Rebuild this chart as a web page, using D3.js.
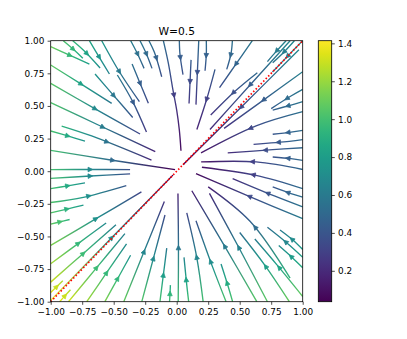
<!DOCTYPE html>
<html>
<head>
<meta charset="utf-8">
<script src="https://cdn.jsdelivr.net/npm/d3@7"></script>
<style>
  body { margin: 0; background: #fff; }
  text { font-family: "DejaVu Sans", sans-serif; }
</style>
</head>
<body>
<div id="chart"></div>
<script>
// streamlines, upstream -> downstream, each point [x, y, speed]
var streamsUpperLeft = [
  [[-1, 0.954, 1.11], [-0.846, 0.887, 0.955], [-0.693, 0.821, 0.805]],
  [[-0.9, 1, 1.03], [-0.807, 0.923, 0.93], [-0.745, 0.865, 0.861]],
  [[-0.825, 1, 0.965], [-0.735, 0.923, 0.868], [-0.608, 0.791, 0.725]],
  [[-0.693, 1, 0.854], [-0.614, 0.872, 0.753], [-0.534, 0.745, 0.651]],
  [[-0.595, 1, 0.777], [-0.455, 0.762, 0.593], [-0.296, 0.533, 0.398]],
  [[-0.354, 0.821, 0.542], [-0.296, 0.686, 0.453], [-0.225, 0.52, 0.344]],
  [[-0.365, 1, 0.619], [-0.317, 0.911, 0.555], [-0.259, 0.788, 0.471]],
  [[-0.291, 1, 0.579], [-0.246, 0.911, 0.518], [-0.196, 0.788, 0.44]],
  [[-0.22, 1, 0.546], [-0.177, 0.911, 0.489], [-0.119, 0.724, 0.381]],
  [[-0.106, 1, 0.511], [-0.066, 0.826, 0.418], [-0.032, 0.635, 0.319], [0, 0.468, 0.234], [0.021, 0.315, 0.158], [0.034, 0.157, 0.08]],
  [[-1, 0.814, 1.08], [-0.767, 0.673, 0.837], [-0.516, 0.52, 0.578]],
  [[-0.648, 0.745, 0.748], [-0.503, 0.583, 0.581], [-0.349, 0.412, 0.405]],
  [[-0.471, 0.737, 0.598], [-0.349, 0.533, 0.439], [-0.24, 0.3, 0.283]],
  [[-1, 0.673, 1.055], [-0.64, 0.474, 0.683], [-0.291, 0.285, 0.324]],
  [[-1, 0.525, 1.034], [-0.622, 0.354, 0.647], [-0.17, 0.15, 0.186]],
  [[-0.913, 0.346, 0.929], [-0.675, 0.27, 0.688], [-0.2, 0.085, 0.204]],
  [[-1, 0.308, 1.012], [-0.864, 0.27, 0.875], [-0.728, 0.231, 0.737]],
  [[-1, 0.16, 1.003], [-0.524, 0.086, 0.526], [-0.013, 0.012, 0.04]],
  [[-1, 0.012, 1.0], [-0.685, 0.013, 0.685], [-0.37, 0.012, 0.37]]
];

var streamsUpperRight = [
  [[1, 0.313, 0.524], [0.907, 0.3, 0.478], [0.762, 0.283, 0.406]],
  [[1, 0.242, 0.514], [0.894, 0.229, 0.461], [0.61, 0.206, 0.322]],
  [[1, 0.18, 0.508], [0.762, 0.165, 0.39], [0.405, 0.14, 0.214]],
  [[1, 0.083, 0.502], [0.907, 0.096, 0.456], [0.762, 0.109, 0.385]],
  [[1, 0.013, 0.5], [0.63, 0.071, 0.317], [0.194, 0.071, 0.103]],
  [[0.021, 1, 0.5], [0.026, 0.896, 0.448], [0.05, 0.74, 0.371]],
  [[0.114, 0.853, 0.43], [0.106, 0.686, 0.347], [0.098, 0.519, 0.264]],
  [[0.175, 1, 0.508], [0.164, 0.755, 0.386], [0.153, 0.51, 0.266]],
  [[0.235, 1, 0.514], [0.235, 0.896, 0.463], [0.225, 0.77, 0.401]],
  [[0.304, 0.78, 0.419], [0.238, 0.551, 0.3], [0.16, 0.32, 0.179]],
  [[0.442, 1, 0.547], [0.431, 0.9, 0.499], [0.397, 0.78, 0.438]],
  [[0.6, 1, 0.583], [0.47, 0.82, 0.473], [0.34, 0.64, 0.362]],
  [[0.64, 0.755, 0.5], [0.458, 0.609, 0.381], [0.27, 0.43, 0.254]],
  [[0.9, 1, 0.673], [0.582, 0.66, 0.44], [0.264, 0.32, 0.207]],
  [[0.97, 0.93, 0.672], [0.511, 0.49, 0.354], [0.05, 0.05, 0.04]],
  [[0.868, 1, 0.662], [0.788, 0.916, 0.604], [0.72, 0.84, 0.55]],
  [[0.934, 1, 0.684], [0.854, 0.916, 0.626], [0.762, 0.831, 0.564]],
  [[1, 1, 0.707], [0.881, 0.882, 0.623], [0.76, 0.76, 0.537]],
  [[1, 0.762, 0.629], [0.688, 0.545, 0.439], [0.376, 0.328, 0.25]],
  [[1, 0.627, 0.59], [0.907, 0.576, 0.537], [0.75, 0.48, 0.445]],
  [[1, 0.533, 0.567], [0.907, 0.507, 0.52], [0.762, 0.468, 0.447]],
  [[1, 0.456, 0.55], [0.63, 0.347, 0.36], [0.193, 0.14, 0.119]]
];

var streamsLowerLeft = [
  [[-1, -0.055, 1.0], [-0.685, -0.037, 0.686], [-0.37, -0.02, 0.37]],
  [[-1, -0.134, 1.009], [-0.864, -0.112, 0.871], [-0.728, -0.09, 0.734]],
  [[-1, -0.24, 1.028], [-0.741, -0.2, 0.768], [-0.4, -0.11, 0.415]],
  [[-1, -0.32, 1.05], [-0.87, -0.29, 0.917], [-0.74, -0.26, 0.784]],
  [[-1, -0.405, 1.079], [-0.925, -0.388, 1.003], [-0.85, -0.37, 0.927]],
  [[-1, -0.569, 1.15], [-0.64, -0.364, 0.736], [-0.28, -0.159, 0.322]],
  [[-1, -0.709, 1.226], [-0.78, -0.553, 0.956], [-0.56, -0.397, 0.686]],
  [[-1, -0.85, 1.312], [-0.741, -0.63, 0.973], [-0.482, -0.41, 0.633]],
  [[-1, -0.99, 1.407], [-0.516, -0.51, 0.726], [-0.03, -0.03, 0.042]],
  [[-0.859, -1, 1.318], [-0.635, -0.739, 0.974], [-0.411, -0.478, 0.63]],
  [[-0.714, -1, 1.229], [-0.556, -0.778, 0.956], [-0.398, -0.556, 0.684]],
  [[-0.57, -1, 1.151], [-0.468, -0.822, 0.946], [-0.366, -0.644, 0.741]],
  [[-1, -0.93, 1.366], [-0.952, -0.885, 1.3], [-0.904, -0.84, 1.234]],
  [[-0.929, -1, 1.365], [-0.886, -0.954, 1.302], [-0.843, -0.908, 1.239]],
  [[-0.42, -1, 1.085], [-0.259, -0.616, 0.668], [-0.098, -0.232, 0.252]],
  [[-0.277, -1, 1.038], [-0.185, -0.668, 0.693], [-0.093, -0.336, 0.349]],
  [[-0.133, -1, 1.009], [-0.106, -0.795, 0.802], [-0.079, -0.59, 0.595]],
  [[-0.057, -1, 1.002], [-0.053, -0.936, 0.937], [-0.05, -0.873, 0.874]]
];

var streamsLowerRight = [
  [[0.012, -1, 1.0], [0.014, -0.583, 0.583], [0.01, -0.17, 0.17]],
  [[0.095, -1, 1.001], [0.079, -0.864, 0.865], [0.058, -0.66, 0.661]],
  [[0.21, -1, 1.005], [0.159, -0.66, 0.665], [0.08, -0.32, 0.323]],
  [[0.392, -1, 1.019], [0.286, -0.737, 0.751], [0.153, -0.379, 0.387]],
  [[0.444, -1, 1.024], [0.405, -0.872, 0.895], [0.352, -0.711, 0.733]],
  [[0.636, -1, 1.049], [0.378, -0.57, 0.601], [0.12, -0.15, 0.162]],
  [[0.72, -1, 1.063], [0.492, -0.583, 0.634], [0.26, -0.17, 0.205]],
  [[0.9, -0.82, 0.935], [0.582, -0.384, 0.467], [0.25, -0.12, 0.166]],
  [[0.894, -1, 1.096], [0.696, -0.716, 0.797], [0.5, -0.47, 0.532]],
  [[1, -0.96, 1.083], [0.794, -0.716, 0.82], [0.62, -0.52, 0.606]],
  [[1, -0.6, 0.781], [0.913, -0.52, 0.697], [0.82, -0.45, 0.6]],
  [[1, -0.66, 0.828], [0.868, -0.545, 0.68], [0.72, -0.43, 0.54]],
  [[1, -0.74, 0.897], [0.918, -0.663, 0.804], [0.81, -0.57, 0.693]],
  [[1, -0.134, 0.517], [0.63, -0.032, 0.317], [0.2, 0.03, 0.1]],
  [[1, -0.364, 0.614], [0.608, -0.206, 0.364], [0.153, -0.019, 0.08]],
  [[1, -0.274, 0.568], [0.775, -0.19, 0.42], [0.444, -0.057, 0.232]],
  [[1, -0.198, 0.537], [0.907, -0.172, 0.488], [0.762, -0.121, 0.403]]
];

var diagonal = [[-1, -1], [1, 1]];
var xTicks = [-1, -0.75, -0.5, -0.25, 0, 0.25, 0.5, 0.75, 1];
var yTicks = [-1, -0.75, -0.5, -0.25, 0, 0.25, 0.5, 0.75, 1];
var cbarTicks = [0.2, 0.4, 0.6, 0.8, 1.0, 1.2, 1.4];
var speedRange = [0.037, 1.414];
var title = "W=0.5";

var width = 407, height = 339;
var plot = {left: 50.7, right: 302.7, top: 40.7, bottom: 301.7};
var cbar = {left: 318.3, right: 331.7};

var x = d3.scaleLinear().domain([-1, 1]).range([plot.left, plot.right]);
var y = d3.scaleLinear().domain([-1, 1]).range([plot.bottom, plot.top]);
var color = d3.scaleSequential(d3.interpolateViridis).domain(speedRange);
var cy = d3.scaleLinear().domain(speedRange).range([plot.bottom, plot.top]);

var svg = d3.select('#chart').append('svg')
    .attr('xmlns', 'http://www.w3.org/2000/svg')
    .attr('width', width)
    .attr('height', height);

svg.append('rect').attr('width', width).attr('height', height).attr('fill', '#fff');

var defs = svg.append('defs');
defs.append('clipPath').attr('id', 'plotClip')
    .append('rect')
    .attr('x', plot.left).attr('y', plot.top)
    .attr('width', plot.right - plot.left).attr('height', plot.bottom - plot.top);

var line = d3.line()
    .x(function (d) { return x(d[0]); })
    .y(function (d) { return y(d[1]); })
    .curve(d3.curveCatmullRom.alpha(0.5));

var streams = streamsUpperLeft.concat(streamsUpperRight, streamsLowerLeft, streamsLowerRight);

var gLines = svg.append('g').attr('clip-path', 'url(#plotClip)');
var gArrows = svg.append('g');

streams.forEach(function (pts, i) {
    var x1 = x(pts[0][0]), y1 = y(pts[0][1]);
    var x2 = x(pts[pts.length - 1][0]), y2 = y(pts[pts.length - 1][1]);
    var dx = x2 - x1, dy = y2 - y1, len2 = dx * dx + dy * dy;

    // colour runs along the line with the speed read at each point
    var stops = pts.map(function (p) {
        var t = ((x(p[0]) - x1) * dx + (y(p[1]) - y1) * dy) / len2;
        return {t: Math.max(0, Math.min(1, t)), s: p[2]};
    }).sort(function (a, b) { return a.t - b.t; });

    var grad = defs.append('linearGradient')
        .attr('id', 'sg' + i)
        .attr('gradientUnits', 'userSpaceOnUse')
        .attr('x1', x1).attr('y1', y1).attr('x2', x2).attr('y2', y2);
    stops.forEach(function (s) {
        grad.append('stop').attr('offset', s.t).attr('stop-color', color(s.s));
    });

    var path = gLines.append('path')
        .attr('d', line(pts))
        .attr('fill', 'none')
        .attr('stroke', 'url(#sg' + i + ')')
        .attr('stroke-width', 1.35)
        .attr('stroke-linecap', 'butt');

    // arrow head half way along the line
    var node = path.node(), L = node.getTotalLength();
    var a = node.getPointAtLength(L / 2 - 0.5), b = node.getPointAtLength(L / 2 + 0.5);
    var ux = b.x - a.x, uy = b.y - a.y, un = Math.sqrt(ux * ux + uy * uy) || 1;
    ux /= un; uy /= un;
    var mx = (a.x + b.x) / 2, my = (a.y + b.y) / 2;
    var tm = ((mx - x1) * dx + (my - y1) * dy) / len2, sm = stops[0].s;
    for (var k = 1; k < stops.length; k++) {
        if (tm <= stops[k].t) {
            var f = (tm - stops[k - 1].t) / ((stops[k].t - stops[k - 1].t) || 1);
            sm = stops[k - 1].s + f * (stops[k].s - stops[k - 1].s);
            break;
        }
        sm = stops[k].s;
    }
    var hl = 4.6, hw = 2.3;
    var tip = [mx + ux * hl * 0.5, my + uy * hl * 0.5];
    var base = [mx - ux * hl * 0.5, my - uy * hl * 0.5];
    gArrows.append('path')
        .attr('d', 'M' + tip[0] + ',' + tip[1] +
            'L' + (base[0] - uy * hw) + ',' + (base[1] + ux * hw) +
            'L' + (base[0] + uy * hw) + ',' + (base[1] - ux * hw) + 'Z')
        .attr('fill', color(sm))
        .attr('stroke', color(sm))
        .attr('stroke-width', 0.8)
        .attr('stroke-linejoin', 'miter');
});

// red dotted diagonal
svg.append('path')
    .attr('d', d3.line().x(function (d) { return x(d[0]); }).y(function (d) { return y(d[1]); })(diagonal))
    .attr('fill', 'none')
    .attr('stroke', '#ff0000')
    .attr('stroke-width', 1.7)
    .attr('stroke-dasharray', '1.5,2.1');

// axes
var fmt2 = d3.format('.2f');
var xAxis = svg.append('g')
    .attr('transform', 'translate(0,' + plot.bottom + ')')
    .call(d3.axisBottom(x).tickValues(xTicks).tickFormat(fmt2).tickSize(3.1).tickPadding(3.6));
var yAxis = svg.append('g')
    .attr('transform', 'translate(' + plot.left + ',0)')
    .call(d3.axisLeft(y).tickValues(yTicks).tickFormat(fmt2).tickSize(3.1).tickPadding(3.3));

[xAxis, yAxis].forEach(function (g) {
    g.select('.domain').remove();
    g.selectAll('line').attr('stroke', '#000').attr('stroke-width', 0.7);
    g.selectAll('text').attr('font-size', '8.9px').attr('fill', '#000')
        .style('font-family', '"DejaVu Sans", sans-serif');
});

svg.append('rect')
    .attr('x', plot.left).attr('y', plot.top)
    .attr('width', plot.right - plot.left).attr('height', plot.bottom - plot.top)
    .attr('fill', 'none').attr('stroke', '#000').attr('stroke-width', 0.8);

svg.append('text')
    .attr('x', (plot.left + plot.right) / 2)
    .attr('y', 35.4)
    .attr('text-anchor', 'middle')
    .attr('font-size', '10.7px')
    .attr('fill', '#000')
    .text(title);

// colorbar
var cgrad = defs.append('linearGradient').attr('id', 'cbarGrad')
    .attr('x1', 0).attr('y1', 1).attr('x2', 0).attr('y2', 0);
d3.range(0, 1.0001, 0.05).forEach(function (t) {
    cgrad.append('stop').attr('offset', t).attr('stop-color', d3.interpolateViridis(t));
});
svg.append('rect')
    .attr('x', cbar.left).attr('y', plot.top)
    .attr('width', cbar.right - cbar.left).attr('height', plot.bottom - plot.top)
    .attr('fill', 'url(#cbarGrad)')
    .attr('stroke', '#000').attr('stroke-width', 0.8);

var cAxis = svg.append('g')
    .attr('transform', 'translate(' + cbar.right + ',0)')
    .call(d3.axisRight(cy).tickValues(cbarTicks).tickFormat(d3.format('.1f')).tickSize(3.1).tickPadding(3.3));
cAxis.select('.domain').remove();
cAxis.selectAll('line').attr('stroke', '#000').attr('stroke-width', 0.7);
cAxis.selectAll('text').attr('font-size', '8.9px').attr('fill', '#000')
    .style('font-family', '"DejaVu Sans", sans-serif');
</script>
</body>
</html>
